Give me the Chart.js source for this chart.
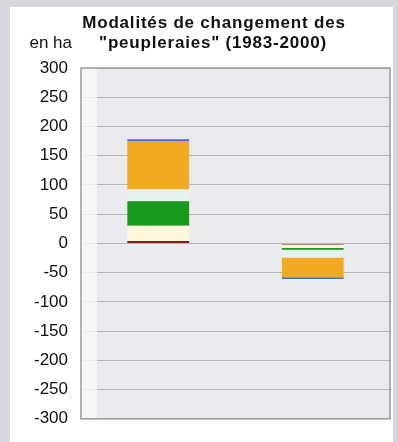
<!DOCTYPE html>
<html>
<head>
<meta charset="utf-8">
<script src="https://cdn.jsdelivr.net/npm/chart.js@4/dist/chart.umd.min.js"></script>
<style>
  html, body { margin: 0; padding: 0; }
  body { width: 398px; height: 442px; background: #d7d7de; position: relative; overflow: hidden; }
  #panel { position: absolute; left: 10px; top: 7px; width: 383px; height: 435px; background: #ffffff; }
  #wrap { position: absolute; left: 0; top: 0; width: 398px; height: 442px; }
</style>
</head>
<body>
<div id="panel"></div>
<div id="wrap"><canvas id="peupleChart" width="398" height="442"></canvas></div>
<script>
// categories (gains / pertes) and stacked segments, in ha
const categories = ['Gains', 'Pertes'];
const seriesNames = ['Modalité 1', 'Modalité 2', 'Modalité 3', 'Modalité 4', 'Modalité 5', 'Modalité 6'];
const mod1 = [4, -2];
const mod2 = [26, -6];
const mod3 = [42, -3];
const mod4 = [20, -13];
const mod5 = [83, -34];
const mod6 = [3, -3];
const seriesColors = ['#8b1c1c', '#fdf6da', '#17991c', '#e4f3ec', '#f2aa22', '#3d6fd2'];
const yTicks = [300, 250, 200, 150, 100, 50, 0, -50, -100, -150, -200, -250, -300];

const titleLines = ['Modalités de changement des', '"peupleraies" (1983-2000)'];
const unitLabel = 'en ha';

const FONT = '"Liberation Sans", Arial, sans-serif';

// fond gris + cadre de la zone de tracé, titre et unité
const frame = {
  id: 'frame',
  beforeDraw(chart) {
    const { ctx, chartArea: a } = chart;
    ctx.save();
    ctx.fillStyle = '#ebebef';
    ctx.fillRect(a.left, a.top, a.right - a.left, a.bottom - a.top);
    ctx.restore();
  },
  beforeDatasetsDraw(chart) {
    // bande claire le long de l'axe
    const { ctx, chartArea: a } = chart;
    ctx.save();
    ctx.fillStyle = 'rgba(247,247,249,0.8)';
    ctx.fillRect(a.left, a.top, 16, a.bottom - a.top);
    ctx.restore();
  },
  afterDraw(chart) {
    const { ctx, chartArea: a } = chart;
    ctx.save();
    ctx.strokeStyle = '#9a9a9a';
    ctx.lineWidth = 1.5;
    ctx.strokeRect(a.left, a.top, a.right - a.left, a.bottom - a.top);

    ctx.fillStyle = '#111111';
    ctx.textAlign = 'center';
    ctx.textBaseline = 'alphabetic';
    ctx.font = 'bold 17px ' + FONT;
    ctx.letterSpacing = '0.8px';
    ctx.fillText(titleLines[0], 214, 28);
    ctx.fillText(titleLines[1], 213, 48);

    ctx.letterSpacing = '0px';
    ctx.textAlign = 'right';
    ctx.font = '17px ' + FONT;
    ctx.fillText(unitLabel, 72, 48);
    ctx.restore();
  }
};

const data = [mod1, mod2, mod3, mod4, mod5, mod6];

new Chart(document.getElementById('peupleChart').getContext('2d'), {
  type: 'bar',
  data: {
    labels: categories,
    datasets: data.map((d, i) => ({
      label: seriesNames[i],
      data: d,
      backgroundColor: seriesColors[i],
      borderWidth: 0,
      barPercentage: 0.4,
      categoryPercentage: 1
    }))
  },
  options: {
    responsive: false,
    animation: false,
    layout: { padding: { top: 68, right: 8, bottom: 10, left: 0 } },
    plugins: {
      legend: { display: false },
      title: { display: false },
      tooltip: { enabled: false }
    },
    scales: {
      x: {
        display: false,
        stacked: true
      },
      y: {
        stacked: true,
        min: -300,
        max: 300,
        afterFit(scale) { scale.width = 81; },
        afterBuildTicks(scale) { scale.ticks = yTicks.map(v => ({ value: v })); },
        border: { display: false },
        grid: { color: '#b4b4b4', lineWidth: 1, drawTicks: false },
        ticks: {
          padding: 13,
          color: '#111111',
          font: { family: FONT, size: 17 }
        }
      }
    }
  },
  plugins: [frame]
});
</script>
</body>
</html>
